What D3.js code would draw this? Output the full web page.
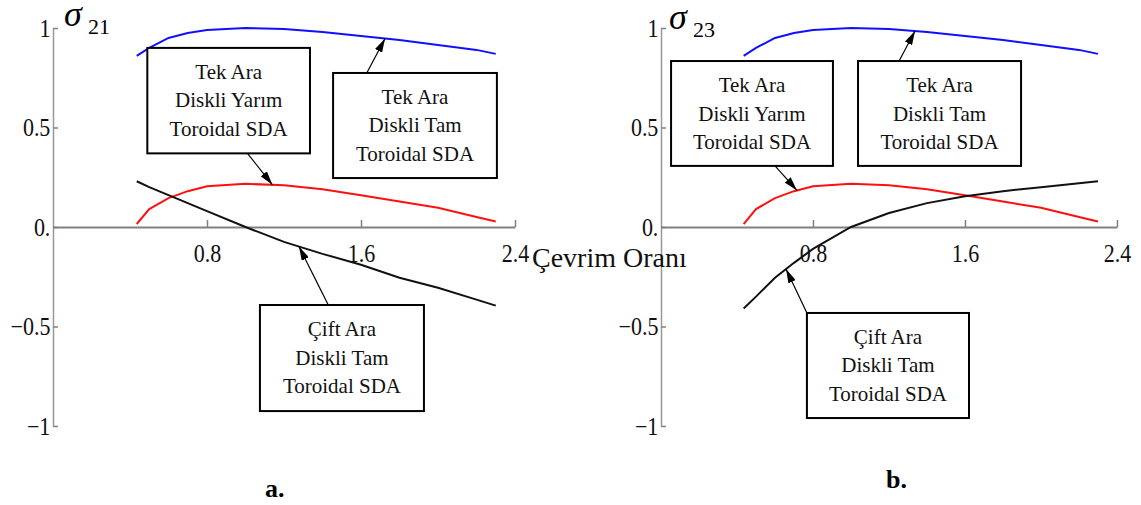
<!DOCTYPE html>
<html>
<head>
<meta charset="utf-8">
<script src="https://cdn.jsdelivr.net/npm/d3@7"></script>
<style>
  body { margin: 0; background: #fff; }
  svg text { font-family: "Liberation Serif", "DejaVu Serif", serif !important; }
</style>
</head>
<body>
<svg id="chart"></svg>
<script>
// çevrim oranı (x) and the curves
const ratio      = [0.435, 0.5, 0.6, 0.7, 0.8, 1.0, 1.2, 1.4, 1.6, 1.8, 2.0, 2.2, 2.3];
const tekTam     = [0.86, 0.9, 0.95, 0.975, 0.99, 1.0, 0.995, 0.98, 0.96, 0.94, 0.915, 0.89, 0.87];
const tekYarim   = [0.015, 0.09, 0.145, 0.18, 0.205, 0.217, 0.21, 0.19, 0.16, 0.128, 0.097, 0.05, 0.028];
const ciftTam21  = [0.23, 0.2, 0.16, 0.12, 0.08, 0.0, -0.075, -0.135, -0.19, -0.255, -0.305, -0.365, -0.395];
const ciftTam23  = [-0.41, -0.35, -0.255, -0.18, -0.11, 0.0, 0.07, 0.12, 0.155, 0.18, 0.2, 0.22, 0.23];

const xTicks      = [0.8, 1.6, 2.4];
const xTickLabels = ["0.8", "1.6", "2.4"];
const yTicks      = [-1, -0.5, 0, 0.5, 1];
const yTickLabels = ["\u22121", "\u22120.5", "0.", "0.5", "1"];

const lblTekYarim = ["Tek Ara", "Diskli Yar\u0131m", "Toroidal SDA"];
const lblTekTam   = ["Tek Ara", "Diskli Tam", "Toroidal SDA"];
const lblCift     = ["\u00c7ift Ara", "Diskli Tam", "Toroidal SDA"];

const serif = "'Liberation Serif', 'DejaVu Serif', serif";
const width = 1141, height = 505;
const svg = d3.select("#chart").attr("width", width).attr("height", height)
  .attr("font-family", serif);

svg.append("defs").append("marker")
  .attr("id", "arrow")
  .attr("viewBox", "0 0 14 8")
  .attr("refX", 14).attr("refY", 4)
  .attr("markerWidth", 14).attr("markerHeight", 8)
  .attr("markerUnits", "userSpaceOnUse")
  .attr("orient", "auto")
  .append("path").attr("d", "M0,0L14,4L0,8Z").attr("fill", "#000");

const panels = [
  {
    left: 53, right: 515, sub: "21", sigmaX: 64, sigmaY: 26, subY: 34,
    series: [
      { values: tekTam, color: "#1010ff" },
      { values: tekYarim, color: "#ff1010" },
      { values: ciftTam21, color: "#111" }
    ],
    notes: [
      { lines: lblTekYarim, box: [0.49, 1.335, 0.9, 0.37], from: 1.01, edge: "bottom", tip: 1.14, values: tekYarim },
      { lines: lblTekTam, box: [1.455, 2.306, 0.774, 0.246], from: 1.63, edge: "top", tip: 1.725, values: tekTam },
      { lines: lblCift, box: [1.075, 1.927, -0.392, -0.925], from: 1.43, edge: "top", tip: 1.278, values: ciftTam21 }
    ],
    tag: "a.", tagX: 265, tagY: 497
  },
  {
    left: 661, right: 1117, sub: "23", sigmaX: 669, sigmaY: 29, subY: 37,
    series: [
      { values: tekTam, color: "#1010ff" },
      { values: tekYarim, color: "#ff1010" },
      { values: ciftTam23, color: "#111" }
    ],
    notes: [
      { lines: lblTekYarim, box: [0.053, 0.905, 0.834, 0.307], from: 0.6, edge: "bottom", tip: 0.716, values: tekYarim },
      { lines: lblTekTam, box: [1.037, 1.895, 0.834, 0.307], from: 1.253, edge: "top", tip: 1.337, values: tekTam },
      { lines: lblCift, box: [0.768, 1.621, -0.432, -0.96], from: 0.768, edge: "top", tip: 0.658, values: ciftTam23 }
    ],
    tag: "b.", tagX: 886, tagY: 488
  }
];

function styleAxis(a) {
  a.attr("font-size", null).attr("font-family", serif);
  a.select(".domain").attr("stroke", "#808080").attr("stroke-width", 2);
  a.selectAll(".tick line").attr("stroke", "#808080").attr("stroke-width", 1.5);
  a.selectAll(".tick text")
    .style("font-size", "25px")
    .attr("fill", "#111")
    .attr("transform", "scale(0.88,1)");
}

panels.forEach(p => {
  const x = d3.scaleLinear().domain([0, 2.4]).range([p.left, p.right]);
  const y = d3.scaleLinear().domain([-1, 1]).range([426, 28]);
  const g = svg.append("g");

  const ya = g.append("g")
    .attr("transform", `translate(${p.left},0)`)
    .call(d3.axisLeft(y).tickValues(yTicks).tickFormat((d, i) => yTickLabels[i])
      .tickSizeInner(-5).tickSizeOuter(0).tickPadding(3));
  styleAxis(ya);
  ya.select(".domain").attr("stroke", "#999").attr("stroke-width", 1.5);

  const xa = g.append("g")
    .attr("transform", `translate(0,${y(0)})`)
    .call(d3.axisBottom(x).tickValues(xTicks).tickFormat((d, i) => xTickLabels[i])
      .tickSizeInner(-7).tickSizeOuter(0).tickPadding(17));
  styleAxis(xa);

  const line = d3.line().x((d, i) => x(ratio[i])).y(d => y(d));
  p.series.forEach(s => {
    g.append("path")
      .datum(s.values)
      .attr("d", line)
      .attr("fill", "none")
      .attr("stroke", s.color)
      .attr("stroke-width", 2);
  });

  // label boxes with arrows
  p.notes.forEach(n => {
    const bx0 = x(n.box[0]), bx1 = x(n.box[1]);
    const by0 = y(n.box[2]), by1 = y(n.box[3]);
    const tipY = d3.scaleLinear().domain(ratio).range(n.values)(n.tip);
    g.append("line")
      .attr("x1", x(n.from)).attr("y1", n.edge === "top" ? by0 : by1)
      .attr("x2", x(n.tip)).attr("y2", y(tipY))
      .attr("stroke", "#000").attr("stroke-width", 1.2)
      .attr("marker-end", "url(#arrow)");
    g.append("rect")
      .attr("x", bx0).attr("y", by0)
      .attr("width", bx1 - bx0).attr("height", by1 - by0)
      .attr("fill", "#fff").attr("stroke", "#000").attr("stroke-width", 2);
    g.selectAll(null)
      .data(n.lines)
      .enter()
      .append("text")
      .attr("x", (bx0 + bx1) / 2)
      .attr("y", (d, i) => by0 + 31 + i * 28.5)
      .attr("text-anchor", "middle")
      .style("font-size", "21px")
      .attr("fill", "#111")
      .text(d => d);
  });

  g.append("text")
    .attr("x", p.sigmaX).attr("y", p.sigmaY)
    .style("font-size", "36px").style("font-style", "italic")
    .text("\u03c3");
  g.append("text")
    .attr("x", p.sigmaX + 24).attr("y", p.subY)
    .style("font-size", "22px")
    .text(p.sub);

  g.append("text")
    .attr("x", p.tagX).attr("y", p.tagY)
    .style("font-size", "26px").style("font-weight", "bold")
    .text(p.tag);
});

svg.append("text")
  .attr("x", 532).attr("y", 267)
  .style("font-size", "28px")
  .attr("fill", "#111")
  .text("\u00c7evrim Oran\u0131");
</script>
</body>
</html>
